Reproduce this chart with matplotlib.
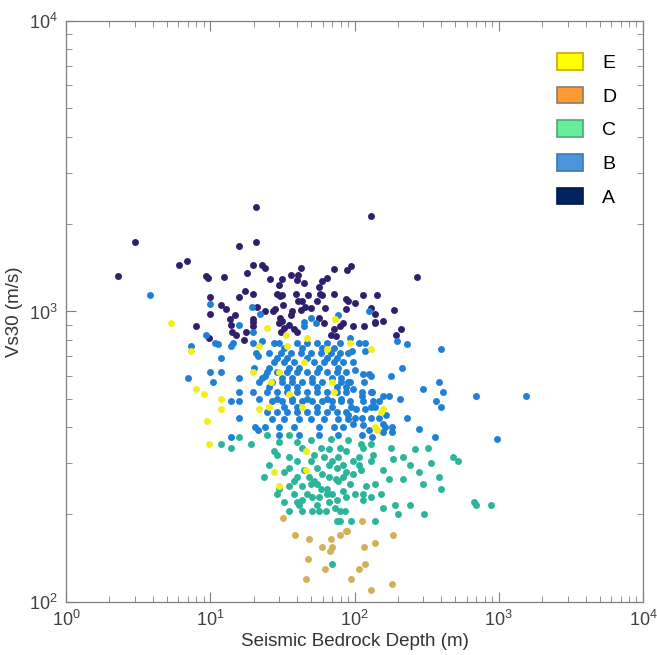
import numpy as np
import matplotlib
matplotlib.use("Agg")
import matplotlib.pyplot as plt
from matplotlib.patches import Patch

plt.rcParams["font.family"] = ["Liberation Sans", "DejaVu Sans"]

# site class -> (bedrock depth [m], Vs30 [m/s])
class_a = [
    (20.8, 2285), (129, 2135), (3.0, 1730), (15.8, 1685), (20.8, 1740), (2.3, 1320),
    (6.1, 1440), (6.9, 1490), (19.8, 1450), (18.0, 1360), (9.4, 1320), (9.7, 1300),
    (12.5, 1310), (17.4, 1180), (19.8, 1150), (15.8, 1120), (10.0, 1120), (11.9, 1050),
    (12.9, 1020), (10.0, 980), (14.9, 970), (21.1, 1040), (19.8, 940), (13.7, 940),
    (22.8, 1450), (23.9, 1410), (42.4, 1410), (71.6, 1400), (89, 1390), (95, 1430),
    (272, 1310), (26, 1290), (31.3, 1290), (36.2, 1330), (40.4, 1330), (39.8, 1280),
    (44.5, 1250), (59.3, 1270), (64.2, 1300), (29.9, 1230), (56.6, 1210), (28.9, 1150),
    (30.4, 1130), (31.3, 1140), (39.1, 1150), (47.4, 1140), (57.5, 1150), (59.3, 1140),
    (71.6, 1150), (87.8, 1100), (90.6, 1090), (100, 1070), (115, 1140), (144, 1140),
    (31.8, 1050), (40.4, 1090), (43.1, 1090), (45.2, 1040), (54.8, 1090), (62.3, 1030),
    (49.7, 1030), (27.2, 1000), (28, 1020), (23.9, 1000), (36.7, 1000), (42.4, 1010),
    (87.8, 1020), (131, 1030), (139, 980), (188, 1010), (30.4, 950), (31.3, 930),
    (36.2, 970), (56.6, 950), (139, 920), (158, 930), (8.0, 890), (9.8, 810),
    (13.9, 900), (14.1, 850), (15.1, 830), (17.7, 850), (19.8, 920), (19.8, 890),
    (29.9, 910), (32.4, 880), (35, 900), (37.9, 870), (39.8, 850), (30.8, 850),
    (61.3, 910), (71.6, 870), (79.9, 890), (83.7, 910), (68.3, 830), (73.9, 820),
    (98, 890), (117, 890), (139, 910), (210, 870), (194, 830), (17.1, 800),
]

class_b = [
    (3.85, 1140), (10.0, 1060), (19.5, 1040), (22.1, 980), (125, 1000), (44.5, 920),
    (49.7, 950), (77.4, 970), (44.5, 890), (53.9, 910), (197, 790), (9.4, 830),
    (15.8, 900), (19.8, 850), (10.8, 780), (11.3, 770), (7.4, 760), (13.9, 760),
    (14.4, 780), (19.8, 780), (22.8, 790), (11.9, 690), (20.8, 720), (21.4, 700),
    (10.0, 620), (11.9, 620), (20.1, 640), (7.05, 590), (10.5, 570), (15.8, 590),
    (22.8, 590), (23.9, 600), (21.8, 570), (15.8, 530), (19.8, 530), (21.8, 500),
    (13.9, 490), (15.8, 490), (15.8, 430), (20.4, 400), (21.4, 390), (23.9, 400),
    (13.9, 370),
    # dense core
    (27.6, 780), (29.9, 780), (39.8, 780), (46.6, 780), (54.8, 780), (64.2, 780), (79.9, 780),
    (25.6, 720), (30.8, 720), (36.2, 720), (42.4, 720), (49.7, 720), (58.4, 720), (68.3, 720),
    (79.9, 720), (90.6, 720),
    (27.6, 670), (32.4, 670), (37.9, 670), (52.2, 670), (61.3, 670), (71.6, 670), (83.7, 670),
    (24.6, 620), (28.9, 620), (33.9, 620), (39.8, 620), (46.6, 620), (54.8, 620), (64.2, 620),
    (75.0, 620), (87.8, 620),
    (26.8, 570), (31.3, 570), (36.7, 570), (43.1, 570), (50.5, 570), (59.3, 570), (81.1, 570),
    (93.5, 570),
    (24.6, 530), (28.9, 530), (33.9, 530), (39.8, 530), (46.6, 530), (54.8, 530), (64.2, 530),
    (75.0, 530), (87.8, 530),
    (26.8, 490), (31.3, 490), (36.7, 490), (43.1, 490), (50.5, 490), (59.3, 490), (69.4, 490),
    (81.1, 490), (93.5, 490),
    (24.6, 450), (28.9, 450), (33.9, 450), (39.8, 450), (46.6, 450), (54.8, 450), (64.2, 450),
    (75.0, 450), (87.8, 450),
    (32.4, 750), (43.1, 750), (59.3, 750), (71.6, 750),
    (28.9, 690), (33.9, 690), (46.6, 690), (64.2, 690), (75.0, 690),
    (25.6, 640), (35.0, 640), (41.0, 640), (56.6, 640), (77.4, 640),
    (31.3, 590), (36.7, 590), (50.5, 590), (69.4, 590), (81.1, 590),
    (25.6, 550), (33.9, 550), (39.8, 550), (54.8, 550), (75.0, 550), (87.8, 550),
    (28.9, 500), (36.7, 500), (46.6, 500), (64.2, 500), (81.1, 500),
    (32.4, 470), (39.8, 470), (54.8, 470), (69.4, 470),
    (26.8, 425), (32.4, 425), (41.0, 425), (49.7, 425), (61.3, 425), (77.4, 425), (90.6, 425),
    (29.9, 400), (37.9, 400), (56.6, 400), (71.6, 400), (83.7, 400),
    (29.9, 375), (41.0, 375), (56.6, 375), (77.4, 375),
    # right side
    (93.5, 810), (107, 780), (119, 780), (96.5, 730), (119, 730), (232, 770), (398, 740),
    (98, 670), (101, 630), (214, 640), (179, 600), (115, 610), (125, 610), (131, 600),
    (117, 570), (90.6, 570), (98, 540), (112, 530), (129, 530), (133, 530), (386, 570),
    (298, 540), (409, 530), (693, 510), (1540, 510), (158, 510), (174, 510), (207, 500),
    (112, 510), (115, 490), (135, 490), (148, 490), (368, 490), (398, 470), (95, 470),
    (103, 460), (119, 460), (129, 470), (139, 470), (166, 440), (90.6, 440), (101, 430),
    (112, 430), (129, 430), (148, 430), (232, 430), (158, 410), (163, 400), (182, 400),
    (182, 385), (98, 410), (115, 405), (125, 390), (280, 395), (362, 370), (968, 365),
    (112, 375), (133, 370), (158, 385),
]

class_c = [
    (15.8, 370), (11.9, 350), (13.9, 340), (19.2, 350), (110, 350), (115, 340), (131, 350),
    (179, 340), (324, 340), (264, 335), (24.6, 375), (29.9, 355), (27.6, 330), (28.9, 320),
    (39.8, 355), (43.1, 340), (52.2, 320), (58.4, 340), (66.2, 335), (79.9, 340), (87.8, 330),
    (39.8, 305), (49.7, 305), (54.8, 290), (69.4, 305), (75.0, 290), (87.8, 280), (32.4, 280),
    (39.8, 270), (59.3, 275), (66.2, 270), (73.9, 265), (83.7, 270), (93.5, 255), (35, 250),
    (43.1, 250), (54.8, 255), (64.2, 245), (69.4, 235), (83.7, 240), (28.9, 235), (37.9, 235),
    (46.6, 235), (56.6, 230), (75.0, 225), (87.8, 230), (32.4, 220), (39.8, 220),
    (29.9, 245), (49.7, 255), (121, 250), (139, 255), (153, 235), (217, 265), (398, 245),
    (43.1, 225), (50.5, 230), (64.2, 235), (101, 235), (115, 235), (131, 230), (41.0, 215),
    (54.8, 215), (66.2, 220), (72.7, 210), (79.9, 205), (86.4, 205), (43.1, 205), (50.5, 205),
    (63.1, 205), (158, 210), (191, 215), (242, 215), (302, 200), (201, 200), (139, 190),
    (75.0, 190), (79.9, 190), (95, 190), (69.4, 135),
    (479, 315), (519, 305), (671, 220), (693, 215), (885, 215),
    (217, 315), (242, 295), (280, 280), (340, 300), (386, 270), (298, 255), (185, 310),
    (158, 285), (129, 305), (110, 285), (107, 315), (135, 320), (174, 265), (115, 225),
    (35, 315), (44.5, 285), (61.3, 315), (77.4, 315), (98, 305), (48.1, 270), (98, 275),
    (35, 290), (58.4, 245), (25.6, 295), (23.4, 270),
    (35, 375), (49.7, 360), (68.3, 365), (90.6, 360),
    (37.9, 260), (52.2, 260), (77.4, 260), (66.2, 295), (83.7, 295), (107, 295),
    (35, 205), (56.6, 205),
]

class_d = [
    (31.8, 195), (38.5, 170), (48.1, 165), (59.3, 155), (69.4, 155), (68.3, 165), (79.9, 170),
    (87.8, 175), (89.2, 175), (112, 190), (185, 170), (139, 160), (117, 155), (67.3, 150),
    (47.4, 140), (119, 135), (62.3, 130), (107, 130), (45.9, 120), (95, 120), (131, 110),
    (182, 115),
]

class_e = [
    (5.38, 910), (7.4, 730), (8.0, 540), (9.1, 520), (11.9, 500), (11.9, 460), (9.5, 420),
    (9.8, 350), (21.8, 460), (19.8, 620), (21.8, 760), (72.7, 940), (24.6, 880), (33.4, 830),
    (46.6, 810), (33.9, 760), (64.2, 740), (44.5, 670), (29.9, 620), (69.4, 570), (26.3, 570),
    (35, 520), (71.6, 530), (43.1, 470), (25.6, 470), (93.5, 780), (129, 740), (158, 460),
    (153, 450), (139, 400), (144, 390), (45.9, 330), (27.6, 280), (45.9, 285), (29.9, 250),
]

classes = ["A", "B", "C", "D", "E"]
point_colors = {"A": "#30206c", "B": "#1f80d6", "C": "#2bb59a", "D": "#d3b05c", "E": "#f2ee1c"}
legend_face = {"E": "#ffff00", "D": "#ff9933", "C": "#66ee99", "B": "#4d94db", "A": "#00205e"}
legend_edge = {"E": "#c9a800", "D": "#8c7b6b", "C": "#4da67c", "B": "#3a78b5", "A": "#001a4a"}

data = {"A": class_a, "B": class_b, "C": class_c, "D": class_d, "E": class_e}

fig = plt.figure(figsize=(6.57, 6.55), dpi=100)
ax = fig.add_axes([0.1005, 0.081, 0.8783, 0.887])

for c in classes:
    pts = np.array(data[c])
    ax.scatter(pts[:, 0], pts[:, 1], s=25, color=point_colors[c], linewidths=0, zorder=3)

ax.set_xscale("log")
ax.set_yscale("log")
ax.set_xlim(1, 1e4)
ax.set_ylim(100, 1e4)

gray = "#7f7f7f"
for sp in ax.spines.values():
    sp.set_color(gray)
    sp.set_linewidth(0.9)
ax.tick_params(which="both", direction="in", top=True, right=True, color=gray,
               labelcolor="#404040", labelsize=13)
ax.tick_params(which="major", length=7, pad=6)
ax.tick_params(which="minor", length=4)

ax.set_xlabel("Seismic Bedrock Depth (m)", fontsize=13.5, color="#333333", labelpad=2)
ax.set_ylabel("Vs30 (m/s)", fontsize=13.5, color="#333333", labelpad=4)

handles = [Patch(facecolor=legend_face[c], edgecolor=legend_edge[c], linewidth=1.2, label=c)
           for c in ["E", "D", "C", "B", "A"]]
ax.legend(handles=handles, loc="upper left", bbox_to_anchor=(0.82, 0.975), frameon=False,
          fontsize=14, handlelength=1.35, handleheight=0.95, labelspacing=0.75,
          handletextpad=1.0)

fig.savefig("out.png", dpi=100)
